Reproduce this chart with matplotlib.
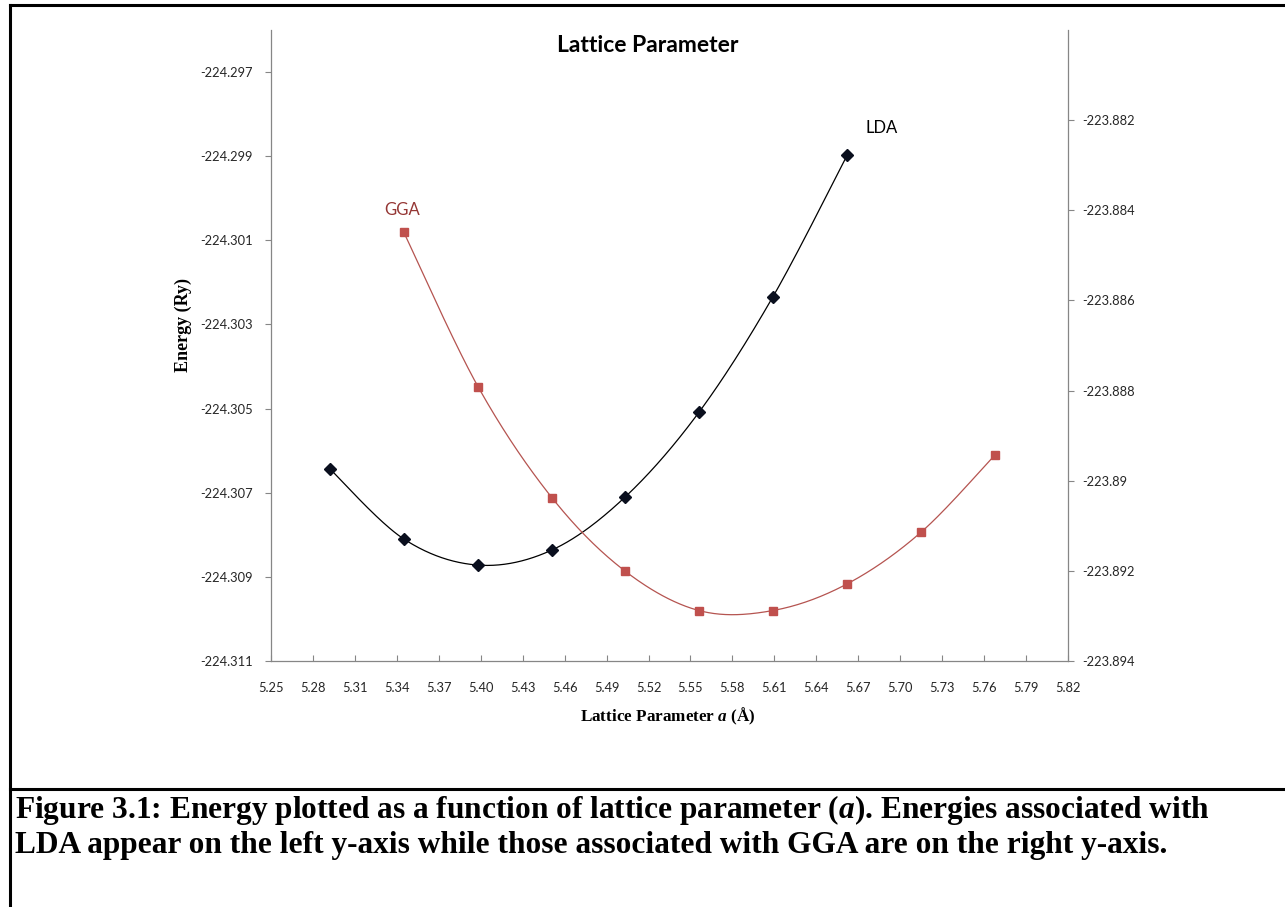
import numpy as np
import matplotlib.pyplot as plt
from matplotlib.lines import Line2D

plt.rcParams["mathtext.fontset"] = "custom"
plt.rcParams["mathtext.it"] = "Liberation Serif:italic:bold"
plt.rcParams["mathtext.rm"] = "Liberation Serif:bold"
plt.rcParams["mathtext.bf"] = "Liberation Serif:bold"

# lattice parameter a (Å)
lda_a = [5.292, 5.345, 5.398, 5.451, 5.503, 5.556, 5.609, 5.662]
gga_a = [5.345, 5.398, 5.451, 5.503, 5.556, 5.609, 5.662, 5.715, 5.768]

# total energy (Ry)
lda_e = [-224.30643, -224.30810, -224.30872, -224.30836, -224.30711,
         -224.30509, -224.30234, -224.29898]
gga_e = [-223.88449, -223.88791, -223.89038, -223.89200, -223.89288,
         -223.89288, -223.89229, -223.89114, -223.88942]

x_ticks = np.round(np.arange(5.25, 5.8201, 0.03), 2)
left_ticks = np.round(np.arange(-224.311, -224.2965, 0.002), 3)
right_ticks = np.round(np.arange(-223.894, -223.8815, 0.002), 3)

TICK_FONT = ["Lato", "DejaVu Sans"]
SERIF = ["Liberation Serif", "DejaVu Serif"]
AXIS_GRAY = "#868686"
GGA_RED = "#C0504D"


def smooth(xs, ys, n=40):
    # Excel-style smoothed line: cubic bezier through every point
    p = np.column_stack([xs, ys]).astype(float)
    ext = np.vstack([p[0], p, p[-1]])
    t = np.linspace(0, 1, n)[:, None]
    out = []
    for i in range(len(p) - 1):
        p0, p1 = ext[i + 1], ext[i + 2]
        c1 = p0 + (ext[i + 2] - ext[i]) / 6
        c2 = p1 - (ext[i + 3] - ext[i + 1]) / 6
        seg = ((1 - t) ** 3) * p0 + 3 * ((1 - t) ** 2) * t * c1 \
            + 3 * (1 - t) * t ** 2 * c2 + t ** 3 * p1
        out.append(seg)
    out = np.vstack(out)
    return out[:, 0], out[:, 1]


W, H = 1285, 907
fig = plt.figure(figsize=(W / 100, H / 100), dpi=100)
ax = fig.add_axes([271 / W, 1 - 661 / H, (1068 - 271) / W, (661 - 30) / H])
ax2 = ax.twinx()

# LDA on left axis
sx, sy = smooth(lda_a, lda_e)
ax.plot(sx, sy, color="black", lw=0.9, zorder=3)
ax.plot(lda_a, lda_e, ls="none", marker="D", ms=5.8, color="#0a0f1e", zorder=4)

# GGA on right axis
sx, sy = smooth(gga_a, gga_e)
ax2.plot(sx, sy, color="#b55450", lw=0.9, zorder=3)
ax2.plot(gga_a, gga_e, ls="none", marker="s", ms=6.4, color=GGA_RED, zorder=4)

ax.annotate("LDA", (lda_a[-1], lda_e[-1]), xytext=(25, 20), textcoords="offset points",
            ha="center", va="center", fontsize=12, family=TICK_FONT, color="black")
ax2.annotate("GGA", (gga_a[0], gga_e[0]), xytext=(-1, 16), textcoords="offset points",
             ha="center", va="center", fontsize=12, family=TICK_FONT, color="#953735")

ax.set_xlim(5.25, 5.82)
ax.set_ylim(-224.311, -224.296)
ax2.set_ylim(-223.894, -223.880)
ax.set_xticks(x_ticks)
ax.set_xticklabels([f"{v:.2f}" for v in x_ticks])
ax.set_yticks(left_ticks)
ax.set_yticklabels([f"{v:.3f}" for v in left_ticks])
ax2.set_yticks(right_ticks)
ax2.set_yticklabels([f"{v:g}" for v in right_ticks])

for a in (ax, ax2):
    a.spines["top"].set_visible(False)
    for s in ("left", "right", "bottom"):
        a.spines[s].set_color(AXIS_GRAY)
        a.spines[s].set_linewidth(0.9)
    for lab in a.get_xticklabels() + a.get_yticklabels():
        lab.set_family(TICK_FONT)
        lab.set_fontsize(9.3)
        lab.set_color("#262626")
ax2.spines["left"].set_visible(False)
ax2.spines["bottom"].set_visible(False)
ax.spines["right"].set_visible(False)

ax.tick_params(axis="y", direction="out", length=4, color=AXIS_GRAY, pad=9)
ax.tick_params(axis="x", direction="in", length=4, color=AXIS_GRAY, pad=15)
ax2.tick_params(axis="y", direction="out", length=4, color=AXIS_GRAY, pad=6)

fig.text(668 / W, 1 - 716 / H, "Lattice Parameter $a$ (Å)", ha="center", va="center",
         fontsize=12.3, fontweight="bold", family=SERIF)
fig.text(183 / W, 1 - 325 / H, "Energy (Ry)", rotation=90, ha="center", va="center",
         fontsize=13, fontweight="bold", family=SERIF)
fig.text(648 / W, 1 - 45 / H, "Lattice Parameter", ha="center", va="center",
         fontsize=16.5, fontweight="bold", family=TICK_FONT)

# page frame and caption
lw = 2.2
fig.add_artist(Line2D([10 / W, 10 / W], [0, 1 - 5 / H], color="black", lw=lw))
fig.add_artist(Line2D([10 / W, 1], [1 - 5 / H, 1 - 5 / H], color="black", lw=lw))
fig.add_artist(Line2D([10 / W, 1], [1 - 789 / H, 1 - 789 / H], color="black", lw=lw))

cap1 = "Figure 3.1: Energy plotted as a function of lattice parameter ($a$). Energies associated with"
cap2 = "LDA appear on the left y-axis while those associated with GGA are on the right y-axis."
fig.text(15 / W, 1 - 810 / H, cap1, ha="left", va="center", fontsize=22.6,
         fontweight="bold", family=SERIF)
fig.text(15 / W, 1 - 846 / H, cap2, ha="left", va="center", fontsize=22.6,
         fontweight="bold", family=SERIF)

fig.savefig("out.png", dpi=100)
